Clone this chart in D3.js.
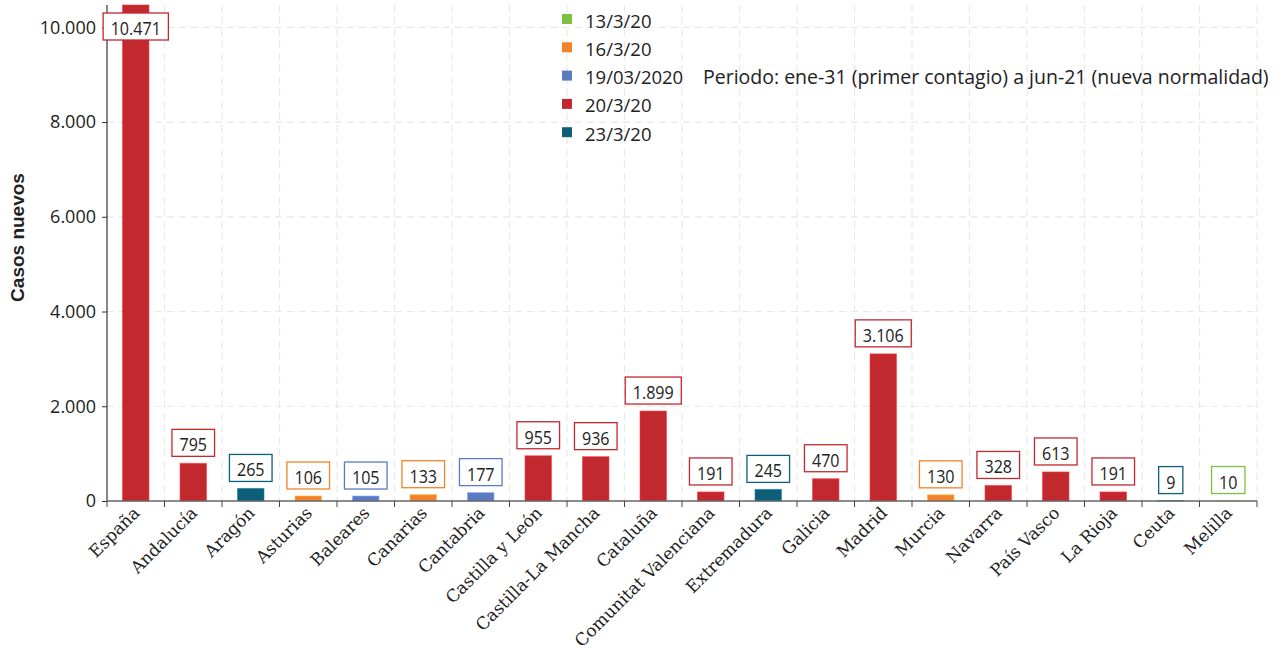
<!DOCTYPE html>
<html>
<head>
<meta charset="utf-8">
<script src="https://cdn.jsdelivr.net/npm/d3@7"></script>
<style>
  html, body { margin: 0; padding: 0; background: #fff; }
  svg { display: block; }
</style>
</head>
<body>
<svg id="chart" width="1282" height="659"></svg>
<script>
// Casos nuevos por comunidad autónoma
const regions = ["España", "Andalucía", "Aragón", "Asturias", "Baleares", "Canarias", "Cantabria",
  "Castilla y León", "Castilla-La Mancha", "Cataluña", "Comunitat Valenciana", "Extremadura",
  "Galicia", "Madrid", "Murcia", "Navarra", "País Vasco", "La Rioja", "Ceuta", "Melilla"];
const newCases = [10471, 795, 265, 106, 105, 133, 177, 955, 936, 1899, 191, 245,
  470, 3106, 130, 328, 613, 191, 9, 10];
// Fecha de referencia de cada comunidad (serie)
const regionDate = ["20/3/20", "20/3/20", "23/3/20", "16/3/20", "19/03/2020", "16/3/20", "19/03/2020",
  "20/3/20", "20/3/20", "20/3/20", "20/3/20", "23/3/20", "20/3/20", "20/3/20", "16/3/20",
  "20/3/20", "20/3/20", "20/3/20", "23/3/20", "13/3/20"];
const seriesNames = ["13/3/20", "16/3/20", "19/03/2020", "20/3/20", "23/3/20"];
const seriesColors = ["#7cc242", "#f3832a", "#5b7bc1", "#c1292e", "#0f5e79"];
const yTicks = [0, 2000, 4000, 6000, 8000, 10000];
const periodNote = "Periodo: ene-31 (primer contagio) a jun-21 (nueva normalidad)";

const W = 1282, H = 659;
const margin = { top: 5, right: 25, bottom: 158, left: 107 };
const innerW = W - margin.left - margin.right;
const innerH = H - margin.top - margin.bottom;

const svg = d3.select("#chart");
const g = svg.append("g").attr("transform", `translate(${margin.left},${margin.top})`);

const x = d3.scaleBand().domain(regions).range([0, innerW]).paddingInner(0.54).paddingOuter(0.27);
const y = d3.scaleLinear().domain([0, d3.max(newCases)]).range([innerH, 0]);
const color = d3.scaleOrdinal().domain(seriesNames).range(seriesColors);
const fmt = d3.formatLocale({ decimal: ",", thousands: ".", grouping: [3], currency: ["", "€"] }).format(",d");

// Rejilla discontinua
const step = innerW / regions.length;
const grid = g.append("g").attr("stroke", "#e6e9e9").attr("stroke-dasharray", "7,5").attr("stroke-width", 1.2);
grid.selectAll("line.v").data(d3.range(1, regions.length + 1)).join("line")
  .attr("x1", i => i * step).attr("x2", i => i * step)
  .attr("y1", 0).attr("y2", innerH);
grid.selectAll("line.h").data(yTicks.filter(t => t > 0)).join("line")
  .attr("x1", 0).attr("x2", innerW)
  .attr("y1", d => y(d)).attr("y2", d => y(d));

// Barras
g.append("g").selectAll("rect").data(regions).join("rect")
  .attr("x", d => x(d))
  .attr("width", x.bandwidth())
  .attr("y", (d, i) => y(newCases[i]))
  .attr("height", (d, i) => innerH - y(newCases[i]))
  .attr("fill", (d, i) => color(regionDate[i]))
  .attr("stroke", (d, i) => d3.color(color(regionDate[i])).brighter(0.9))
  .attr("stroke-opacity", 0.6)
  .attr("stroke-width", 1);

// Eje Y
const yAxis = g.append("g")
  .call(d3.axisLeft(y).tickValues(yTicks).tickFormat(fmt).tickSize(5).tickSizeOuter(0));
yAxis.select(".domain").attr("stroke", "#111").attr("d", `M0,0V${innerH}`);
yAxis.selectAll(".tick line").attr("stroke", "#333");
yAxis.selectAll(".tick text")
  .attr("font-family", "'Open Sans', sans-serif").attr("font-size", 18).attr("fill", "#222").attr("x", -11);

// Eje X
const xAxis = g.append("g").attr("transform", `translate(0,${innerH})`);
xAxis.append("line").attr("x1", 0).attr("x2", innerW).attr("stroke", "#666").attr("stroke-width", 1.5);
xAxis.selectAll("line.tk").data(d3.range(0, regions.length + 1)).join("line")
  .attr("x1", i => i * step).attr("x2", i => i * step)
  .attr("y1", 0).attr("y2", 6).attr("stroke", "#444");
xAxis.selectAll("text").data(regions).join("text")
  .attr("transform", d => `translate(${x(d) + x.bandwidth() / 2 + 5},${13}) rotate(-45)`)
  .attr("text-anchor", "end")
  .attr("font-family", "DejaVu Serif")
  .attr("font-size", 17)
  .attr("fill", "#222")
  .text(d => d);

// Título del eje Y
svg.append("text")
  .attr("transform", `translate(24,${237.5}) rotate(-90)`)
  .attr("text-anchor", "middle")
  .attr("font-family", "'Liberation Sans', Arial, sans-serif")
  .attr("font-weight", "bold")
  .attr("font-size", 19)
  .attr("fill", "#222")
  .text("Casos nuevos");

// Etiquetas de valor con recuadro
const labels = g.append("g").selectAll("g").data(regions).join("g");
labels.each(function (d, i) {
  const grp = d3.select(this);
  const c = color(regionDate[i]);
  const txt = grp.append("text")
    .attr("font-family", "'Open Sans', sans-serif")
    .attr("font-size", 18.5)
    .attr("fill", "#222")
    .attr("text-anchor", "middle")
    .attr("dominant-baseline", "central")
    .text(fmt(newCases[i]));
  // texto algo estrechado
  const tw = txt.node().getComputedTextLength() * 0.87;
  txt.attr("textLength", tw).attr("lengthAdjust", "spacingAndGlyphs");
  const bw = tw + 15, bh = 27;
  const cx = x(d) + x.bandwidth() / 2;
  const top = Math.max(y(newCases[i]) - 7 - bh, 8);
  grp.insert("rect", "text")
    .attr("x", cx - bw / 2).attr("y", top)
    .attr("width", bw).attr("height", bh)
    .attr("fill", "#fff").attr("stroke", c).attr("stroke-width", 1.3);
  txt.attr("x", cx).attr("y", top + bh / 2 + 1);
});

// Leyenda
const legend = svg.append("g").attr("transform", "translate(562,19)");
const rows = legend.selectAll("g").data(seriesNames).join("g")
  .attr("transform", (d, i) => `translate(0,${i * 28.3})`);
rows.append("rect").attr("x", 0).attr("y", -5).attr("width", 10).attr("height", 10)
  .attr("fill", d => color(d));
rows.append("text").attr("x", 23).attr("y", 1)
  .attr("dominant-baseline", "central")
  .attr("font-family", "'Open Sans', sans-serif").attr("font-size", 18.5).attr("fill", "#222")
  .text(d => d);
legend.append("text").attr("x", 141).attr("y", 2 * 28.3 + 1)
  .attr("dominant-baseline", "central")
  .attr("font-family", "'Open Sans', sans-serif").attr("font-size", 19.5).attr("fill", "#222")
  .text(periodNote);
</script>
</body>
</html>
